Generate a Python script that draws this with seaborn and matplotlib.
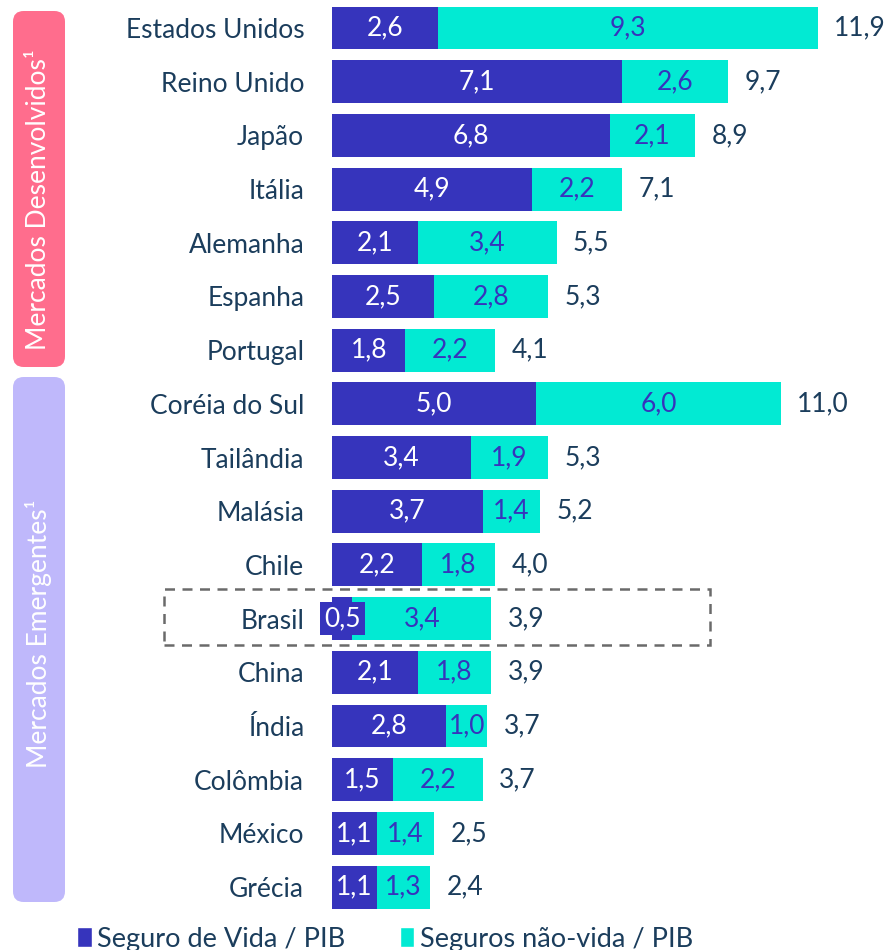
import matplotlib
matplotlib.use("Agg")
import matplotlib.pyplot as plt
from matplotlib.patches import FancyBboxPatch, Rectangle, Patch
import seaborn as sns
import pandas as pd

countries = ["Estados Unidos", "Reino Unido", "Japão", "Itália", "Alemanha", "Espanha",
             "Portugal", "Coréia do Sul", "Tailândia", "Malásia", "Chile", "Brasil",
             "China", "Índia", "Colômbia", "México", "Grécia"]
vida = [2.6, 7.1, 6.8, 4.9, 2.1, 2.5, 1.8, 5.0, 3.4, 3.7, 2.2, 0.5, 2.1, 2.8, 1.5, 1.1, 1.1]
nao_vida = [9.3, 2.6, 2.1, 2.2, 3.4, 2.8, 2.2, 6.0, 1.9, 1.4, 1.8, 3.4, 1.8, 1.0, 2.2, 1.4, 1.3]
total = [11.9, 9.7, 8.9, 7.1, 5.5, 5.3, 4.1, 11.0, 5.3, 5.2, 4.0, 3.9, 3.9, 3.7, 3.7, 2.5, 2.4]

df = pd.DataFrame({"pais": countries, "vida": vida, "nao_vida": nao_vida, "total": total})
df["soma"] = df["vida"] + df["nao_vida"]

DARK = "#3634BC"
TEAL = "#02EAD3"
NAVY = "#1B3D5C"
PINK = "#FF6D8D"
LAV = "#BFB8FB"

sns.set_theme(style="white")
plt.rcParams["font.family"] = ["Lato", "DejaVu Sans"]
FS = 19

W, H = 887, 950
fig = plt.figure(figsize=(W / 100, H / 100), dpi=100)


def fx(x):
    return x / W


def fy(y):
    return 1 - y / H


# axes: bars start at x=332, rows centred at 28 ... 887
top_px, bot_px = 1.15, 913.9
ax = fig.add_axes([fx(332), fy(bot_px), fx(879) - fx(332), fy(top_px) - fy(bot_px)])

sns.barplot(data=df, x="soma", y="pais", color=TEAL, orient="h", width=0.8,
            saturation=1, linewidth=0, ax=ax)
sns.barplot(data=df, x="vida", y="pais", color=DARK, orient="h", width=0.8,
            saturation=1, linewidth=0, ax=ax)
ax.set_xlim(0, 13.4)
ax.set_ylim(len(df) - 0.5, -0.5)
ax.set_xlabel("")
ax.set_ylabel("")
ax.set_xticks([])
ax.tick_params(axis="y", length=0, pad=20, labelsize=FS, labelcolor=NAVY)
sns.despine(ax=ax, left=True, bottom=True)


def fmt(v):
    return f"{v:.1f}".replace(".", ",")


for i, r in df.iterrows():
    if r["pais"] == "Brasil":
        ax.text(r["vida"] / 2, i, fmt(r["vida"]), ha="center", va="center",
                color="white", fontsize=FS,
                bbox=dict(facecolor=DARK, edgecolor="none", pad=3))
    else:
        ax.text(r["vida"] / 2, i, fmt(r["vida"]), ha="center", va="center",
                color="white", fontsize=FS)
    ax.text(r["vida"] + r["nao_vida"] / 2, i, fmt(r["nao_vida"]), ha="center",
            va="center", color=DARK, fontsize=FS)
    ax.text(r["soma"] + 0.4, i, fmt(r["total"]), ha="left", va="center",
            color=NAVY, fontsize=FS)

# side group boxes
for y0, y1, col, label, dy in [(11, 367, PINK, "Mercados Desenvolvidos¹", 11),
                               (377, 902, LAV, "Mercados Emergentes¹", -6)]:
    box = FancyBboxPatch((fx(13), fy(y1)), fx(65) - fx(13), fy(y0) - fy(y1),
                         boxstyle="round,pad=0,rounding_size=0.012",
                         transform=fig.transFigure, facecolor=col,
                         edgecolor="none", mutation_aspect=W / H)
    fig.patches.append(box)
    fig.text(fx(39), fy((y0 + y1) / 2 + dy), label, rotation=90, ha="center",
             va="center", color="white", fontsize=FS)

# dashed highlight around Brasil
rect = Rectangle((fx(164), fy(645)), fx(710) - fx(164), fy(589) - fy(645),
                 transform=fig.transFigure, fill=False, edgecolor="#6A6A6A",
                 linestyle=(0, (4, 3)), linewidth=1.8)
fig.patches.append(rect)

handles = [Patch(facecolor=DARK, label="Seguro de Vida / PIB"),
           Patch(facecolor=TEAL, label="Seguros não-vida / PIB")]
fig.legend(handles=handles, loc="center", bbox_to_anchor=(fx(385), fy(939)),
           ncol=2, frameon=False, fontsize=FS + 0.5, handlelength=0.55,
           handleheight=0.75, handletextpad=0.2, columnspacing=2.0,
           labelcolor=NAVY)

fig.savefig("out.png", dpi=100)
